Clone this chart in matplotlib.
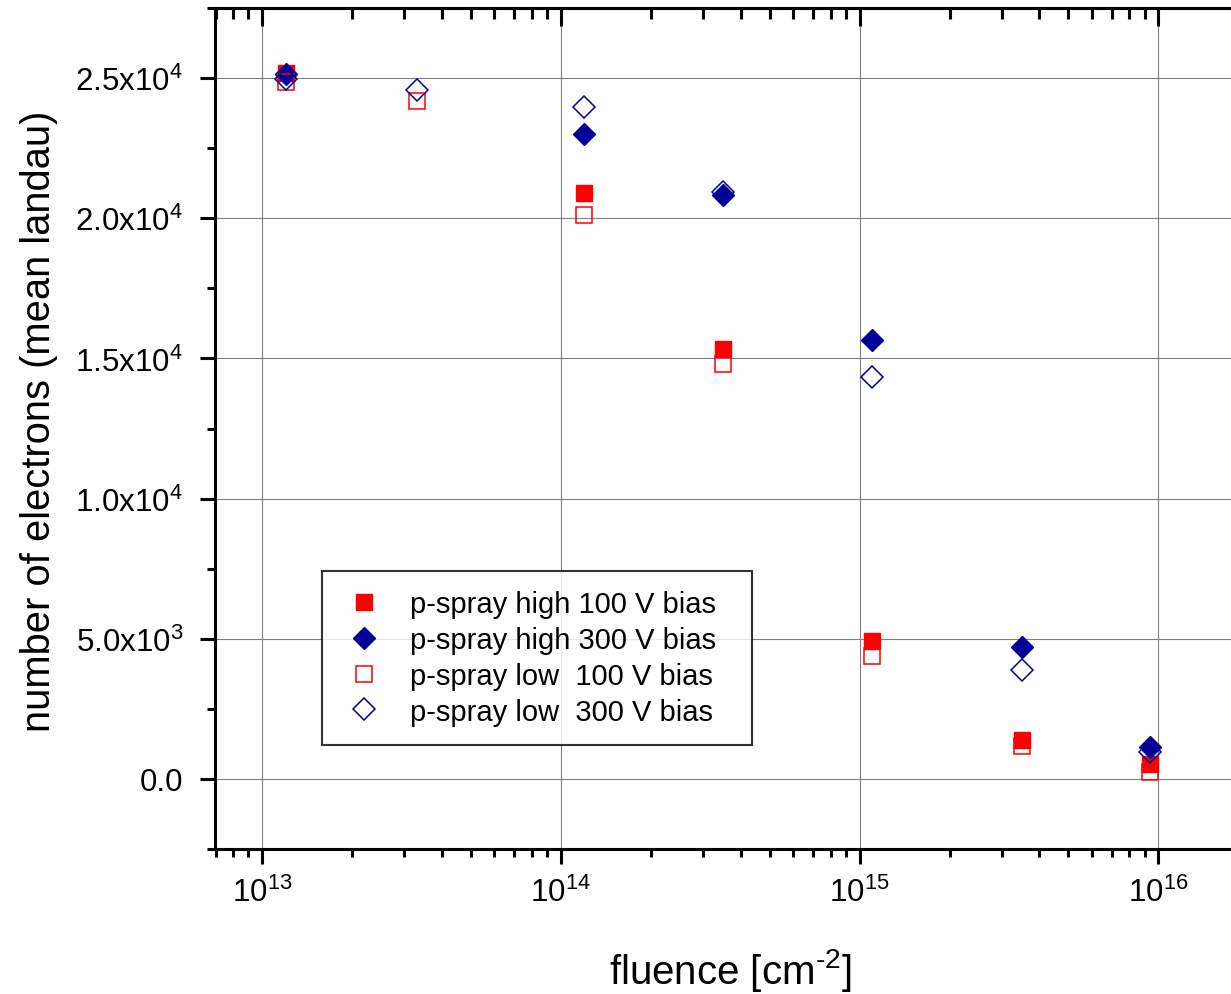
import numpy as np
from matplotlib import pyplot as plt
from matplotlib import ticker

plt.rcParams['font.family'] = ['Liberation Sans', 'DejaVu Sans']
plt.rcParams['mathtext.default'] = 'regular'

# data
fluence = [1.2e13, 3.3e13, 1.2e14, 3.5e14, 1.1e15, 3.5e15, 9.4e15]
high_100 = [25200, np.nan, 20900, 15330, 4920, 1400, 540]
high_300 = [25140, np.nan, 23000, 20830, 15670, 4720, 1150]
low_100 = [24860, 24190, 20110, 14800, 4390, 1190, 250]
low_300 = [24960, 24580, 23970, 20950, 14340, 3890, 960]

labels = ["p-spray high 100 V bias  ", "p-spray high 300 V bias  ",
          "p-spray low  100 V bias  ", "p-spray low  300 V bias  "]
yticks = [0, 5000, 10000, 15000, 20000, 25000]
ytick_labels = ["0.0", "5.0x10$^{3}$", "1.0x10$^{4}$", "1.5x10$^{4}$",
                "2.0x10$^{4}$", "2.5x10$^{4}$"]

red = '#FF0000'
blue = '#000099'

fig = plt.figure(figsize=(12.31, 9.95), dpi=100)
ax = fig.add_axes([0.1747, 0.1457, 0.8253, 0.8452])

ax.plot(fluence, high_100, 's', ms=11.5, color=red, mec=red, label=labels[0])
ax.plot(fluence, high_300, 'D', ms=11.5, color=blue, mec=blue, label=labels[1])
ax.plot(fluence, low_100, 's', ms=11.5, mfc='none', mec=red, mew=1.1, label=labels[2])
ax.plot(fluence, low_300, 'D', ms=11.5, mfc='none', mec=blue, mew=1.1, label=labels[3])

ax.set_xscale('log')
ax.set_xlim(6.97e12, 1.75e16)
ax.set_ylim(-2500, 27500)

ax.set_yticks(yticks)
ax.set_yticklabels(ytick_labels)
ax.yaxis.set_minor_locator(ticker.MultipleLocator(2500))
ax.xaxis.set_major_locator(ticker.LogLocator(base=10, numticks=10))
ax.xaxis.set_minor_locator(ticker.LogLocator(base=10, subs=np.arange(2, 10), numticks=20))
ax.xaxis.set_minor_formatter(ticker.NullFormatter())

ax.grid(True, which='major', color='#808080', lw=0.8)
ax.set_axisbelow(True)

for s in ['left', 'top', 'bottom']:
    ax.spines[s].set_linewidth(2.2)
ax.spines['right'].set_visible(False)

ax.tick_params(axis='both', which='major', labelsize=22.5, width=2.2, length=11, pad=9)
ax.tick_params(axis='y', which='major', pad=12)
ax.tick_params(axis='both', which='minor', width=2.2, length=6)
ax.tick_params(axis='x', which='both', direction='out', top=False)
ax.tick_params(axis='y', which='both', direction='out', right=False)

# top ticks point inward
sec = ax.twiny()
sec.set_xscale('log')
sec.set_xlim(ax.get_xlim())
sec.xaxis.set_major_locator(ticker.LogLocator(base=10, numticks=10))
sec.xaxis.set_minor_locator(ticker.LogLocator(base=10, subs=np.arange(2, 10), numticks=20))
sec.tick_params(axis='x', which='major', direction='in', width=2.2, length=13, labeltop=False)
sec.tick_params(axis='x', which='minor', direction='in', width=2.2, length=8, labeltop=False)
for s in sec.spines.values():
    s.set_visible(False)
sec.spines['top'].set_visible(True)
sec.spines['top'].set_linewidth(2.2)

ax.set_xlabel("fluence [cm$^{\u20102}$]", fontsize=29)
ax.set_ylabel("number of electrons (mean landau)", fontsize=28.7)
ax.xaxis.set_label_coords(0.507, -0.115)
ax.yaxis.set_label_coords(-0.155, 0.51)

leg = ax.legend(loc='upper left', bbox_to_anchor=(0.2616, 0.4251),
                bbox_transform=fig.transFigure, fontsize=21, frameon=True,
                fancybox=False, edgecolor='black', labelspacing=0.27,
                handletextpad=0.78, borderpad=0.65, handlelength=1.6,
                borderaxespad=0)
leg.get_frame().set_linewidth(1.5)

fig.savefig('out.png', dpi=100)
